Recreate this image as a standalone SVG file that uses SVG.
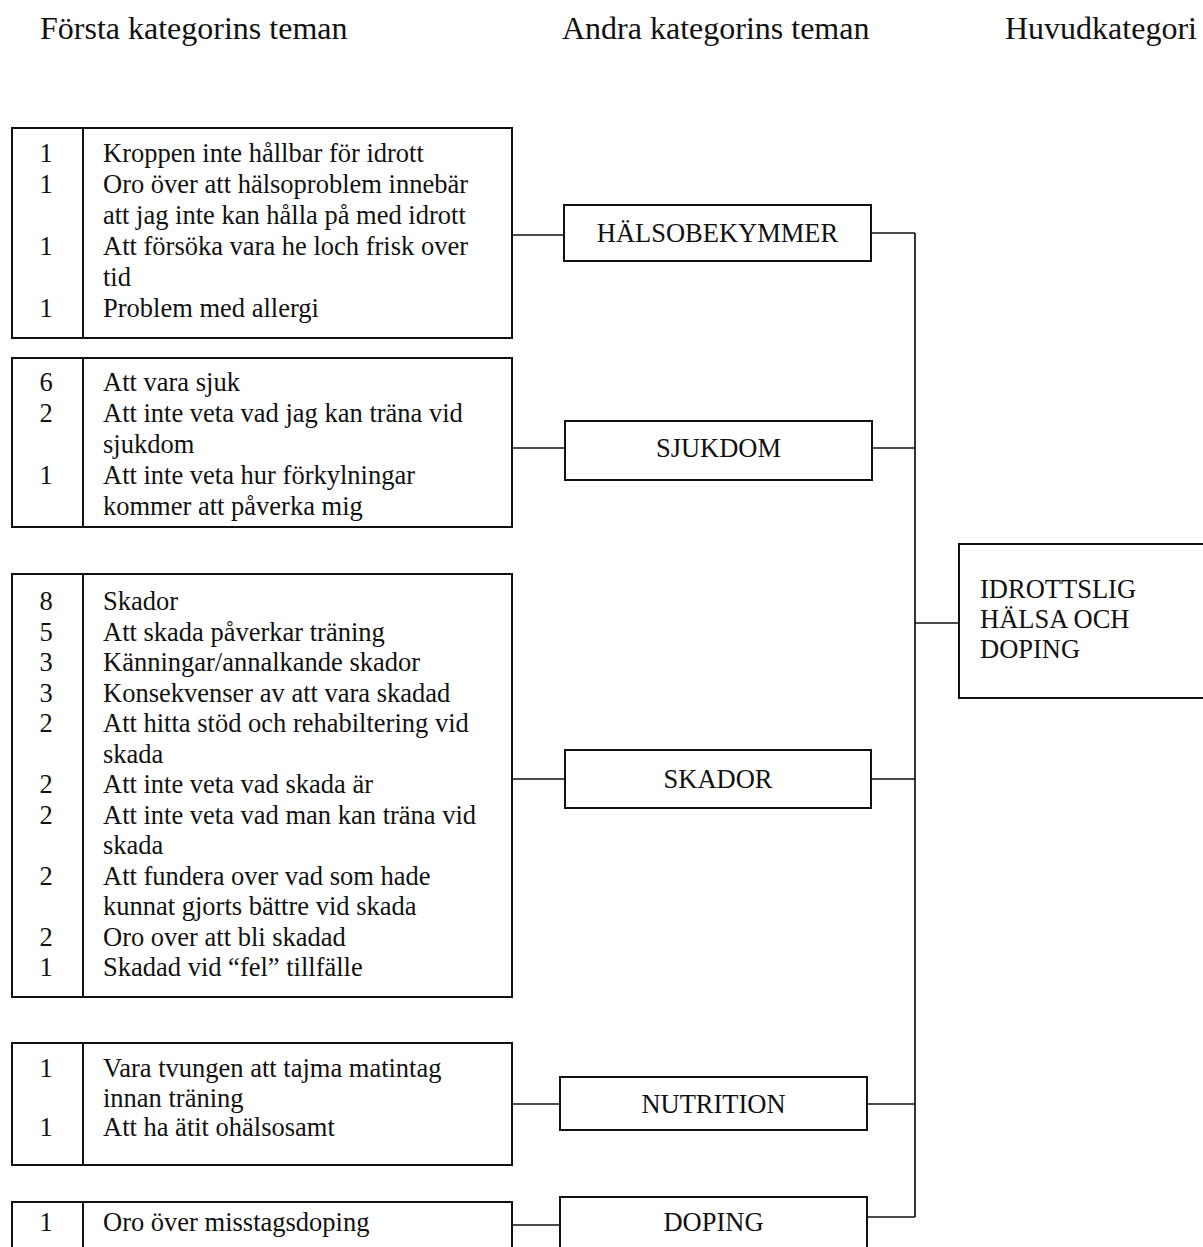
<svg xmlns="http://www.w3.org/2000/svg" width="1203" height="1247" viewBox="0 0 1203 1247">
  <style>
    text { font-family: "Liberation Serif", "Times New Roman", serif; fill: #111; }
    .hdr { font-size: 32px; }
    .t { font-size: 26.5px; }
    .num { font-size: 26.5px; text-anchor: middle; }
    .mid { font-size: 26.5px; text-anchor: middle; }
    .box { fill: #fff; stroke: #111; stroke-width: 2; }
    .div { stroke: #111; stroke-width: 2; }
    .wire { stroke: #111; stroke-width: 1.7; fill: none; }
  </style>

  <!-- column headings -->
  <g id="headers">
    <text class="hdr" x="40" y="39">Första kategorins teman</text>
    <text class="hdr" x="562" y="39">Andra kategorins teman</text>
    <text class="hdr" x="1005" y="39">Huvudkategori</text>
  </g>

  <!-- connectors -->
  <g id="connectors">
    <line class="wire" x1="512" y1="235" x2="564" y2="235"/>
    <line class="wire" x1="512" y1="448" x2="565" y2="448"/>
    <line class="wire" x1="512" y1="779" x2="565" y2="779"/>
    <line class="wire" x1="512" y1="1104" x2="560" y2="1104"/>
    <line class="wire" x1="512" y1="1225" x2="560" y2="1225"/>
    <line class="wire" x1="871" y1="233" x2="915" y2="233"/>
    <line class="wire" x1="872" y1="448" x2="915" y2="448"/>
    <line class="wire" x1="871" y1="779" x2="915" y2="779"/>
    <line class="wire" x1="867" y1="1104" x2="915" y2="1104"/>
    <line class="wire" x1="867" y1="1217" x2="915" y2="1217"/>
    <line class="wire" x1="915" y1="233" x2="915" y2="1217"/>
    <line class="wire" x1="915" y1="623" x2="959" y2="623"/>
  </g>

  <!-- first-category theme lists -->
  <g id="list-halsobekymmer">
    <rect class="box" x="12" y="128" width="500" height="210"/>
    <line class="div" x1="83" y1="128" x2="83" y2="338"/>
    <text class="num" x="46" y="162">1</text>
    <text class="t" x="103" y="162">Kroppen inte hållbar för idrott</text>
    <text class="num" x="46" y="193">1</text>
    <text class="t" x="103" y="193">Oro över att hälsoproblem innebär</text>
    <text class="t" x="103" y="224">att jag inte kan hålla på med idrott</text>
    <text class="num" x="46" y="255">1</text>
    <text class="t" x="103" y="255">Att försöka vara he loch frisk over</text>
    <text class="t" x="103" y="286">tid</text>
    <text class="num" x="46" y="317">1</text>
    <text class="t" x="103" y="317">Problem med allergi</text>
  </g>

  <g id="list-sjukdom">
    <rect class="box" x="12" y="358" width="500" height="169"/>
    <line class="div" x1="83" y1="358" x2="83" y2="527"/>
    <text class="num" x="46" y="391">6</text>
    <text class="t" x="103" y="391">Att vara sjuk</text>
    <text class="num" x="46" y="422">2</text>
    <text class="t" x="103" y="422">Att inte veta vad jag kan träna vid</text>
    <text class="t" x="103" y="453">sjukdom</text>
    <text class="num" x="46" y="484">1</text>
    <text class="t" x="103" y="484">Att inte veta hur förkylningar</text>
    <text class="t" x="103" y="515">kommer att påverka mig</text>
  </g>

  <g id="list-skador">
    <rect class="box" x="12" y="574" width="500" height="423"/>
    <line class="div" x1="83" y1="574" x2="83" y2="997"/>
    <text class="num" x="46" y="610">8</text>
    <text class="t" x="103" y="610">Skador</text>
    <text class="num" x="46" y="640.5">5</text>
    <text class="t" x="103" y="640.5">Att skada påverkar träning</text>
    <text class="num" x="46" y="671">3</text>
    <text class="t" x="103" y="671">Känningar/annalkande skador</text>
    <text class="num" x="46" y="701.5">3</text>
    <text class="t" x="103" y="701.5">Konsekvenser av att vara skadad</text>
    <text class="num" x="46" y="732">2</text>
    <text class="t" x="103" y="732">Att hitta stöd och rehabiltering vid</text>
    <text class="t" x="103" y="762.5">skada</text>
    <text class="num" x="46" y="793">2</text>
    <text class="t" x="103" y="793">Att inte veta vad skada är</text>
    <text class="num" x="46" y="823.5">2</text>
    <text class="t" x="103" y="823.5">Att inte veta vad man kan träna vid</text>
    <text class="t" x="103" y="854">skada</text>
    <text class="num" x="46" y="884.5">2</text>
    <text class="t" x="103" y="884.5">Att fundera over vad som hade</text>
    <text class="t" x="103" y="915">kunnat gjorts bättre vid skada</text>
    <text class="num" x="46" y="945.5">2</text>
    <text class="t" x="103" y="945.5">Oro over att bli skadad</text>
    <text class="num" x="46" y="976">1</text>
    <text class="t" x="103" y="976">Skadad vid “fel” tillfälle</text>
  </g>

  <g id="list-nutrition">
    <rect class="box" x="12" y="1043" width="500" height="122"/>
    <line class="div" x1="83" y1="1043" x2="83" y2="1165"/>
    <text class="num" x="46" y="1077">1</text>
    <text class="t" x="103" y="1077">Vara tvungen att tajma matintag</text>
    <text class="t" x="103" y="1107">innan träning</text>
    <text class="num" x="46" y="1136">1</text>
    <text class="t" x="103" y="1136">Att ha ätit ohälsosamt</text>
  </g>

  <g id="list-doping">
    <rect class="box" x="12" y="1202" width="500" height="70"/>
    <line class="div" x1="83" y1="1202" x2="83" y2="1272"/>
    <text class="num" x="46" y="1231">1</text>
    <text class="t" x="103" y="1231">Oro över misstagsdoping</text>
  </g>

  <!-- second-category themes -->
  <g id="theme-halsobekymmer">
    <rect class="box" x="564" y="205" width="307" height="56"/>
    <text class="mid" x="717.5" y="242">HÄLSOBEKYMMER</text>
  </g>
  <g id="theme-sjukdom">
    <rect class="box" x="565" y="421" width="307" height="59"/>
    <text class="mid" x="718.5" y="457">SJUKDOM</text>
  </g>
  <g id="theme-skador">
    <rect class="box" x="565" y="750" width="306" height="58"/>
    <text class="mid" x="718" y="788">SKADOR</text>
  </g>
  <g id="theme-nutrition">
    <rect class="box" x="560" y="1077" width="307" height="53"/>
    <text class="mid" x="713.5" y="1113">NUTRITION</text>
  </g>
  <g id="theme-doping">
    <rect class="box" x="560" y="1197" width="307" height="70"/>
    <text class="mid" x="713.5" y="1231">DOPING</text>
  </g>

  <!-- main category -->
  <g id="main-category">
    <rect class="box" x="959" y="544" width="250" height="154"/>
    <text class="t" x="980" y="598">IDROTTSLIG</text>
    <text class="t" x="980" y="628">HÄLSA OCH</text>
    <text class="t" x="980" y="658">DOPING</text>
  </g>
</svg>
